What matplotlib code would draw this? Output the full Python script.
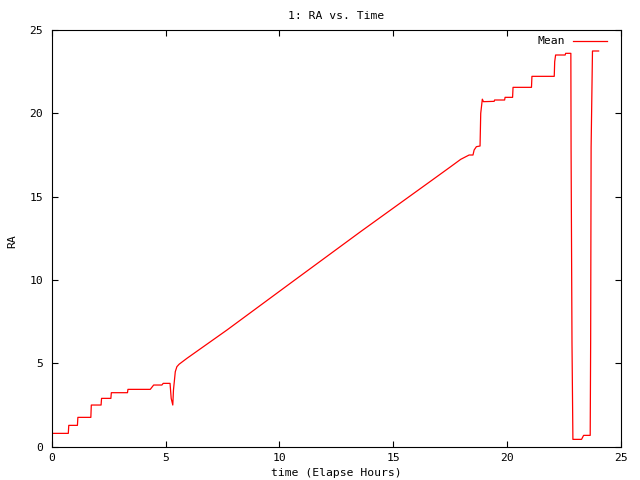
import matplotlib
matplotlib.use("Agg")
import matplotlib.pyplot as plt

# Elapsed time (hours) and mean RA values
time_hours = [0.0, 0.05, 0.73, 0.75, 1.13, 1.15, 1.72, 1.74, 2.17, 2.19, 2.6, 2.62,
              3.33, 3.35, 4.33, 4.48, 4.84, 4.9, 5.2, 5.25, 5.32, 5.35, 5.43, 5.5,
              5.6, 5.94, 7.7, 10.63, 13.57, 16.72, 17.53, 17.97, 18.34, 18.51,
              18.56, 18.66, 18.82, 18.85, 18.92, 18.97, 19.44, 19.46, 19.9, 19.92,
              20.25, 20.27, 21.08, 21.1, 22.08, 22.1, 22.14, 22.56, 22.58, 22.81,
              22.82, 22.86, 22.9, 23.28, 23.37, 23.66, 23.68, 23.7, 23.76, 24.03]
ra_mean = [0.74, 0.8, 0.8, 1.28, 1.28, 1.76, 1.76, 2.5, 2.5, 2.9, 2.9, 3.24,
           3.24, 3.44, 3.44, 3.7, 3.7, 3.8, 3.8, 2.9, 2.5, 3.4, 4.5, 4.8,
           4.95, 5.3, 7.0, 9.95, 12.9, 16.0, 16.8, 17.24, 17.5, 17.5,
           17.8, 18.0, 18.04, 20.0, 20.85, 20.7, 20.72, 20.8, 20.8, 20.96,
           20.96, 21.56, 21.56, 22.22, 22.22, 23.1, 23.5, 23.5, 23.6, 23.6,
           17.8, 6.2, 0.44, 0.44, 0.68, 0.68, 6.4, 17.96, 23.74, 23.74]

x_ticks = [0, 5, 10, 15, 20, 25]
y_ticks = [0, 5, 10, 15, 20, 25]

font = "DejaVu Sans Mono"
fs = 8.2

fig = plt.figure(figsize=(6.4, 4.8), dpi=100)
ax = fig.add_axes([51.7 / 640, 1 - 446.7 / 480, (620.7 - 51.7) / 640, (446.7 - 30) / 480])

ax.plot(time_hours, ra_mean, color="#ff0000", lw=0.9, label="Mean")

ax.set_xlim(0, 25)
ax.set_ylim(0, 25)
ax.set_xticks(x_ticks)
ax.set_yticks(y_ticks)
ax.tick_params(direction="in", length=4.3, width=0.8, top=True, right=True,
               labelsize=fs, color="black")
ax.tick_params(axis="x", pad=4.5)
ax.tick_params(axis="y", pad=6.0)
for lab in ax.get_xticklabels() + ax.get_yticklabels():
    lab.set_fontfamily(font)
for sp in ax.spines.values():
    sp.set_linewidth(0.8)
    sp.set_color("black")

fig.text(336 / 640, 1 - 15.7 / 480, "1: RA vs. Time", ha="center", va="center",
         fontsize=fs, family=font)
fig.text(336 / 640, 1 - 473.3 / 480, "time (Elapse Hours)", ha="center", va="center",
         fontsize=fs, family=font)
fig.text(12.3 / 640, 1 - 240.7 / 480, "RA", ha="center", va="center",
         fontsize=fs, family=font, rotation=90)

leg = ax.legend(loc="upper right", bbox_to_anchor=(607 / 640, 1 - 36.5 / 480),
                bbox_transform=fig.transFigure, frameon=False, markerfirst=False,
                borderaxespad=0, borderpad=0, handlelength=3.0, handletextpad=0.7,
                prop={"family": font, "size": fs})

fig.savefig("out.png", dpi=100)
